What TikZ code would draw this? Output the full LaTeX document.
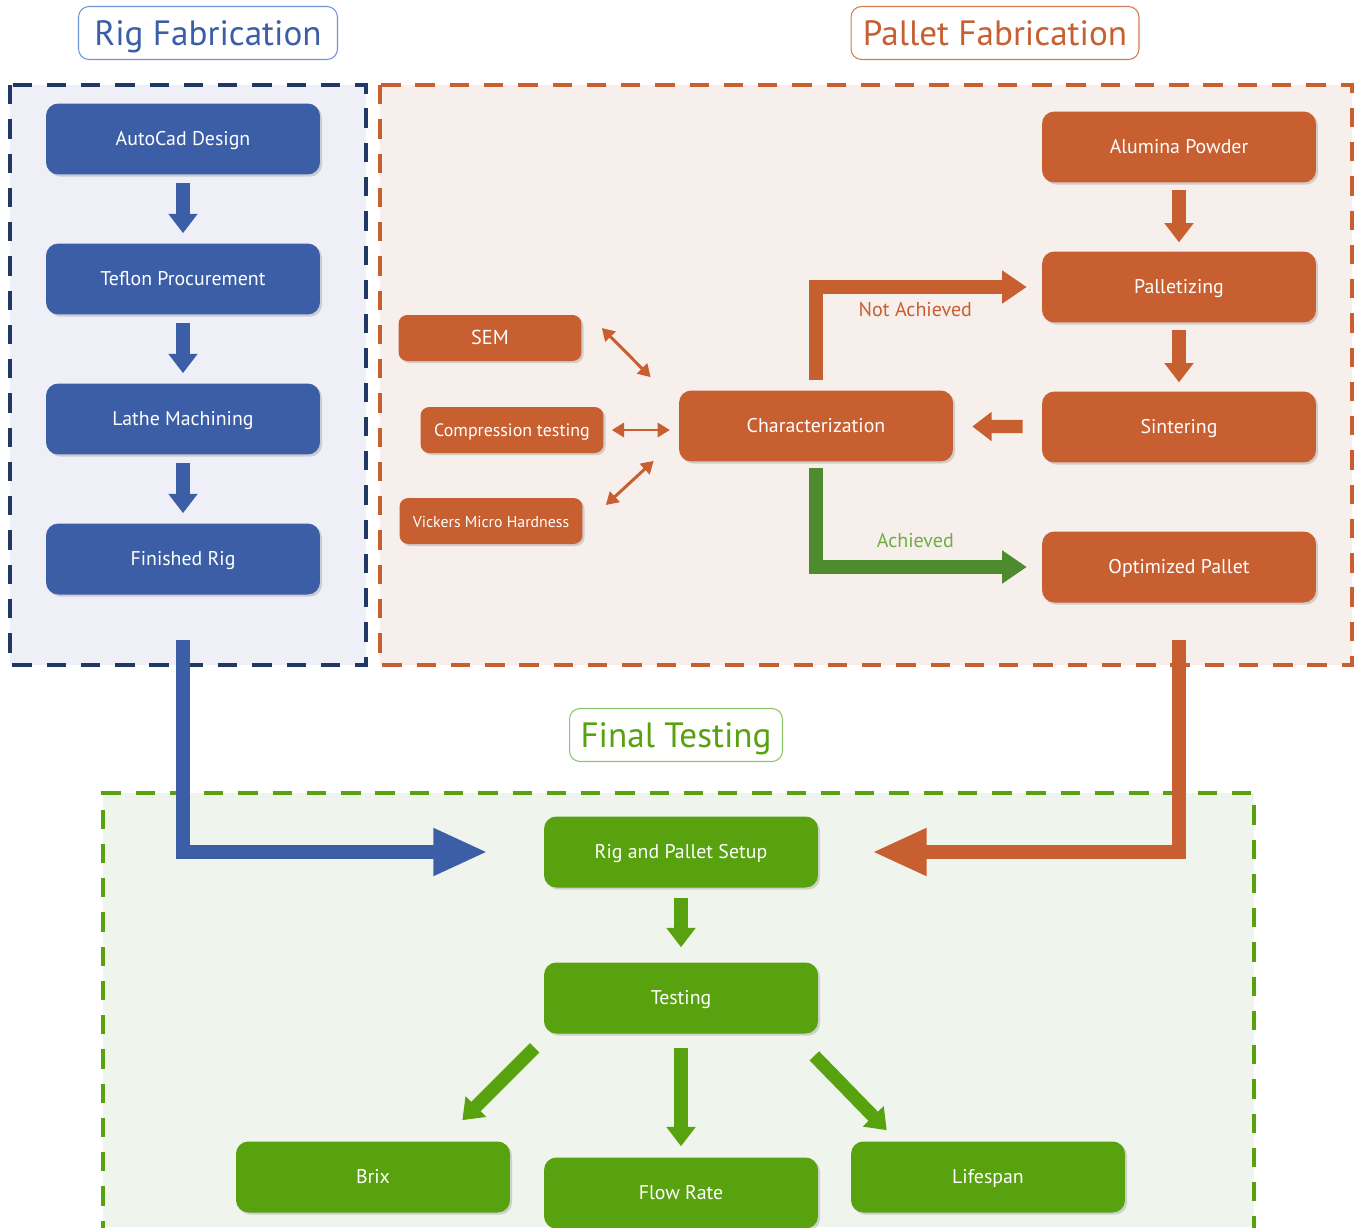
\documentclass[tikz,border=0pt]{standalone}
\usepackage{fontspec}
\setmainfont{PT Sans}
\usetikzlibrary{arrows.meta,shadows}
\definecolor{rigblue}{HTML}{3B5EA6}
\definecolor{rignavy}{HTML}{1F3864}
\definecolor{rigfill}{HTML}{EEEFF7}
\definecolor{rigline}{HTML}{6F94D4}
\definecolor{palorange}{HTML}{C75F31}
\definecolor{palfill}{HTML}{F7EFEB}
\definecolor{palline}{HTML}{D07A50}
\definecolor{tstgreen}{HTML}{58A10F}
\definecolor{tstfill}{HTML}{EFF5EC}
\definecolor{tstline}{HTML}{8CC46A}
\definecolor{okgreen}{HTML}{4E8A2E}
\definecolor{oktext}{HTML}{70AD47}
\tikzset{
  pbox/.style   ={rounded corners=7pt, minimum width=5.48cm, minimum height=1.42cm,
                  inner sep=0pt, text=white, font=\fontsize{11.3}{13}\selectfont,
                  text height=7.9pt, text depth=0pt,
                  drop shadow={opacity=0.3, shadow xshift=1.2pt, shadow yshift=-1.2pt}},
  rigbox/.style ={pbox, fill=rigblue},
  palbox/.style ={pbox, fill=palorange},
  tstbox/.style ={pbox, fill=tstgreen},
  smallbox/.style={palbox, minimum width=3.66cm, minimum height=0.92cm,
                  rounded corners=5pt, text height=7pt,
                  font=\fontsize{10.2}{12}\selectfont},
  title/.style  ={draw, rounded corners=6pt, fill=white, line width=0.6pt,
                  minimum height=1.06cm, inner sep=0pt,
                  text height=14pt, text depth=0pt,
                  font=\fontsize{20}{24}\selectfont},
  frame/.style  ={line width=2.3pt, dash pattern=on 11pt off 8.5pt},
  blk/.style    ={line width=7.5pt, -{Triangle[length=11pt,width=16pt]}},
  elbow/.style  ={line width=7.5pt, -{Triangle[length=14pt,width=18pt]}},
  big/.style    ={line width=8pt, -{Triangle[length=31pt,width=25pt]}},
  dbl/.style    ={line width=1.7pt, palorange,
                  {Triangle[length=7pt,width=8pt]}-{Triangle[length=7pt,width=8pt]}},
  lbl/.style    ={font=\fontsize{11.4}{13}\selectfont},
}
\begin{document}
\begin{tikzpicture}[x=0.02cm, y=-0.02cm]
  \useasboundingbox (0,0) rectangle (1362,1227);
  \fill[rigfill] (10,85) rectangle (366,665);
  \draw[frame, rignavy] (10,85) rectangle (366,665);
  \fill[palfill] (380,85) rectangle (1352,665);
  \draw[frame, palorange] (380,85) rectangle (1352,665);
  \fill[tstfill] (103,793) rectangle (1254,1227);
  \draw[frame, tstgreen] (103,1240) -- (103,793) -- (1254,793) -- (1254,1240);

  \node[title, draw=rigline, text=rigblue, minimum width=5.18cm] (trig) at (208,33) {Rig Fabrication};
  \node[title, draw=palline, text=palorange, minimum width=5.76cm] (tpal) at (995,33) {Pallet Fabrication};
  \node[title, draw=tstline, text=tstgreen, minimum width=4.26cm] (ttst) at (676,735) {Final Testing};

  \node[rigbox] (ad) at (183,139) {AutoCad Design};
  \node[rigbox] (tp) at (183,279) {Teflon Procurement};
  \node[rigbox] (lm) at (183,419) {Lathe Machining};
  \node[rigbox] (fr) at (183,559) {Finished Rig};

  \node[palbox] (al) at (1179,147) {Alumina Powder};
  \node[palbox] (pz) at (1179,287) {Palletizing};
  \node[palbox] (si) at (1179,427) {Sintering};
  \node[palbox] (op) at (1179,567) {Optimized Pallet};
  \node[palbox] (ch) at (816,426) {Characterization};
  \node[smallbox, font=\fontsize{11.5}{13}\selectfont] (sem) at (490,338) {SEM};
  \node[smallbox] (cp) at (512,430) {Compression testing};
  \node[smallbox, font=\fontsize{9}{11}\selectfont] (vk) at (491,521) {Vickers Micro Hardness};

  \node[tstbox] (rs) at (681,852) {Rig and Pallet Setup};
  \node[tstbox] (ts) at (681,998) {Testing};
  \node[tstbox] (bx) at (373,1177) {Brix};
  \node[tstbox] (fl) at (681,1193) {Flow Rate};
  \node[tstbox] (lf) at (988,1177) {Lifespan};

  \draw[blk, rigblue, shorten <=4.5pt, shorten >=5.7pt] (ad) -- (tp);
  \draw[blk, rigblue, shorten <=4.5pt, shorten >=5.7pt] (tp) -- (lm);
  \draw[blk, rigblue, shorten <=4.5pt, shorten >=5.7pt] (lm) -- (fr);

  \draw[blk, palorange, shorten <=4pt, shorten >=5pt] (al) -- (pz);
  \draw[blk, palorange, shorten <=4pt, shorten >=5pt] (pz) -- (si);
  \draw[blk, palorange, shorten <=10.8pt, shorten >=10.8pt] (si) -- (ch);
  \draw[elbow, palorange, shorten <=5.7pt, shorten >=8.5pt] (ch.north) |- (pz.west)
    node[lbl, pos=0.72, below=1.5pt, text=palorange] {Not Achieved};
  \draw[elbow, okgreen, shorten <=3.5pt, shorten >=8.5pt] (ch.south) |- (op.west)
    node[lbl, pos=0.72, above=4pt, text=oktext] {Achieved};

  \draw[dbl] ([shift={(20,-10)}]sem.east) -- ([shift={(-28,-13)}]ch.north west);
  \draw[dbl, shorten <=4.5pt, shorten >=5pt] (cp.east) -- (cp.east -| ch.west);
  \draw[dbl] ([shift={(23,-16)}]vk.east) -- ([shift={(-25,-1)}]ch.south west);

  \draw[big, rigblue, shorten <=25.5pt, shorten >=31.8pt] (fr.south) |- (rs.west);
  \draw[big, palorange, shorten <=21pt, shorten >=30.6pt] (op.south) |- (rs.east);

  \draw[blk, tstgreen, shorten <=5.7pt, shorten >=8.5pt] (rs) -- (ts);
  \draw[blk, tstgreen, shorten <=8pt, shorten >=6.2pt] (ts) -- (fl);
  \draw[blk, tstgreen] ([shift={(-9,14)}]ts.south west) -- ([shift={(-48,-21)}]bx.north east);
  \draw[blk, tstgreen] ([shift={(-4,22)}]ts.south east) -- ([shift={(36,-11)}]lf.north west);
\end{tikzpicture}
\end{document}
